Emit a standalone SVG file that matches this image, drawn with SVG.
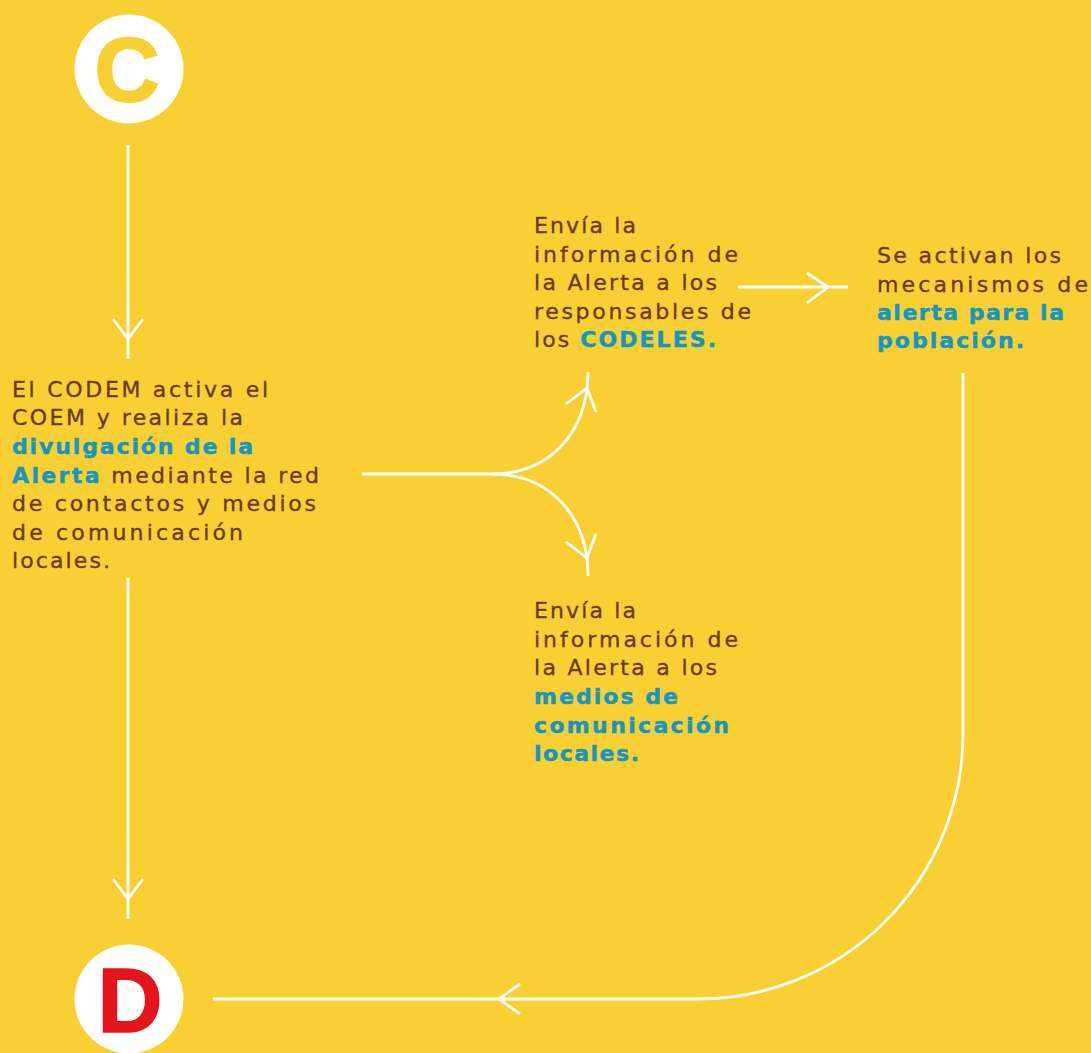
<svg xmlns="http://www.w3.org/2000/svg" width="1091" height="1053" viewBox="0 0 1091 1053">
  <style>
    .bg { fill: #F9D033; }
    .wire { fill: none; stroke: #FFFFFF; stroke-width: 2.8; stroke-linecap: butt; stroke-linejoin: miter; }
    .txt { font-family: "DejaVu Sans", "Open Sans", sans-serif; font-size: 22px; fill: #6B3A1E; stroke: #6B3A1E; stroke-width: 0.35px; }
    .hl { font-weight: 700; fill: #1796BF; stroke: #1796BF; stroke-width: 0.5px; }
    .disc { fill: #FFFFFF; }
    .letter { font-family: "Liberation Sans", "Arial", sans-serif; font-weight: 700; font-size: 90px; text-anchor: middle; }
  </style>
  <rect class="bg" x="0" y="0" width="1091" height="1053"/>

  <!-- start badge -->
  <g id="node-c">
    <circle class="disc" cx="129" cy="69" r="54.5"/>
    <text class="letter" x="127" y="101" fill="#F9D033" stroke="#F9D033" stroke-width="2">C</text>
  </g>

  <!-- end badge -->
  <g id="node-d">
    <circle class="disc" cx="129" cy="999" r="54.5"/>
    <text class="letter" x="130" y="1032" fill="#E3141B" stroke="#E3141B" stroke-width="1.5">D</text>
  </g>

  <g id="node-codem">
    <text class="txt" x="12" y="397" textLength="256" lengthAdjust="spacing">El CODEM activa el</text>
    <text class="txt" x="12" y="425" textLength="231" lengthAdjust="spacing">COEM y realiza la</text>
    <text class="txt" x="12" y="454" textLength="241" lengthAdjust="spacing"><tspan class="hl">divulgación de la</tspan></text>
    <text class="txt" x="12" y="483" textLength="307" lengthAdjust="spacing"><tspan class="hl">Alerta</tspan> mediante la red</text>
    <text class="txt" x="12" y="511" textLength="304" lengthAdjust="spacing">de contactos y medios</text>
    <text class="txt" x="12" y="540" textLength="231" lengthAdjust="spacing">de comunicación</text>
    <text class="txt" x="12" y="568" textLength="98" lengthAdjust="spacing">locales.</text>
  </g>

  <g id="node-codeles">
    <text class="txt" x="534" y="233" textLength="102" lengthAdjust="spacing">Envía la</text>
    <text class="txt" x="534" y="262" textLength="204" lengthAdjust="spacing">información de</text>
    <text class="txt" x="534" y="290" textLength="183" lengthAdjust="spacing">la Alerta a los</text>
    <text class="txt" x="534" y="319" textLength="217" lengthAdjust="spacing">responsables de</text>
    <text class="txt" x="534" y="347" textLength="182" lengthAdjust="spacing">los <tspan class="hl">CODELES.</tspan></text>
  </g>

  <g id="node-poblacion">
    <text class="txt" x="877" y="263" textLength="184" lengthAdjust="spacing">Se activan los</text>
    <text class="txt" x="877" y="292" textLength="211" lengthAdjust="spacing">mecanismos de</text>
    <text class="txt" x="877" y="320" textLength="187" lengthAdjust="spacing"><tspan class="hl">alerta para la</tspan></text>
    <text class="txt" x="877" y="348" textLength="147" lengthAdjust="spacing"><tspan class="hl">población.</tspan></text>
  </g>

  <g id="node-medios">
    <text class="txt" x="534" y="618" textLength="102" lengthAdjust="spacing">Envía la</text>
    <text class="txt" x="534" y="647" textLength="204" lengthAdjust="spacing">información de</text>
    <text class="txt" x="534" y="675" textLength="183" lengthAdjust="spacing">la Alerta a los</text>
    <text class="txt" x="534" y="704" textLength="144" lengthAdjust="spacing"><tspan class="hl">medios de</tspan></text>
    <text class="txt" x="534" y="733" textLength="195" lengthAdjust="spacing"><tspan class="hl">comunicación</tspan></text>
    <text class="txt" x="534" y="761" textLength="105" lengthAdjust="spacing"><tspan class="hl">locales.</tspan></text>
  </g>

  <g id="connectors">
    <!-- C to CODEM -->
    <path class="wire" d="M128,145 V359"/>
    <polyline class="wire" points="113,319 128,339 143,319"/>
    <!-- CODEM to D -->
    <path class="wire" d="M128,578 V919"/>
    <polyline class="wire" points="113,879 128,899 143,879"/>
    <!-- fork to CODELES and medios -->
    <path class="wire" d="M362,474 H492 C550,474 588,432 588,372"/>
    <polyline class="wire" points="566,404 587,388 596,412"/>
    <path class="wire" d="M492,474 C550,474 588,516 588,576"/>
    <polyline class="wire" points="566,542 587,558 596,534"/>
    <!-- CODELES to población -->
    <path class="wire" d="M738,287 H848"/>
    <polyline class="wire" points="807,273 828,287 807,303"/>
    <!-- población back to D -->
    <path class="wire" d="M963,373 V734 A265,265 0 0 1 698,999 H213"/>
    <polyline class="wire" points="520,984 499,999 520,1014"/>
  </g>
</svg>
